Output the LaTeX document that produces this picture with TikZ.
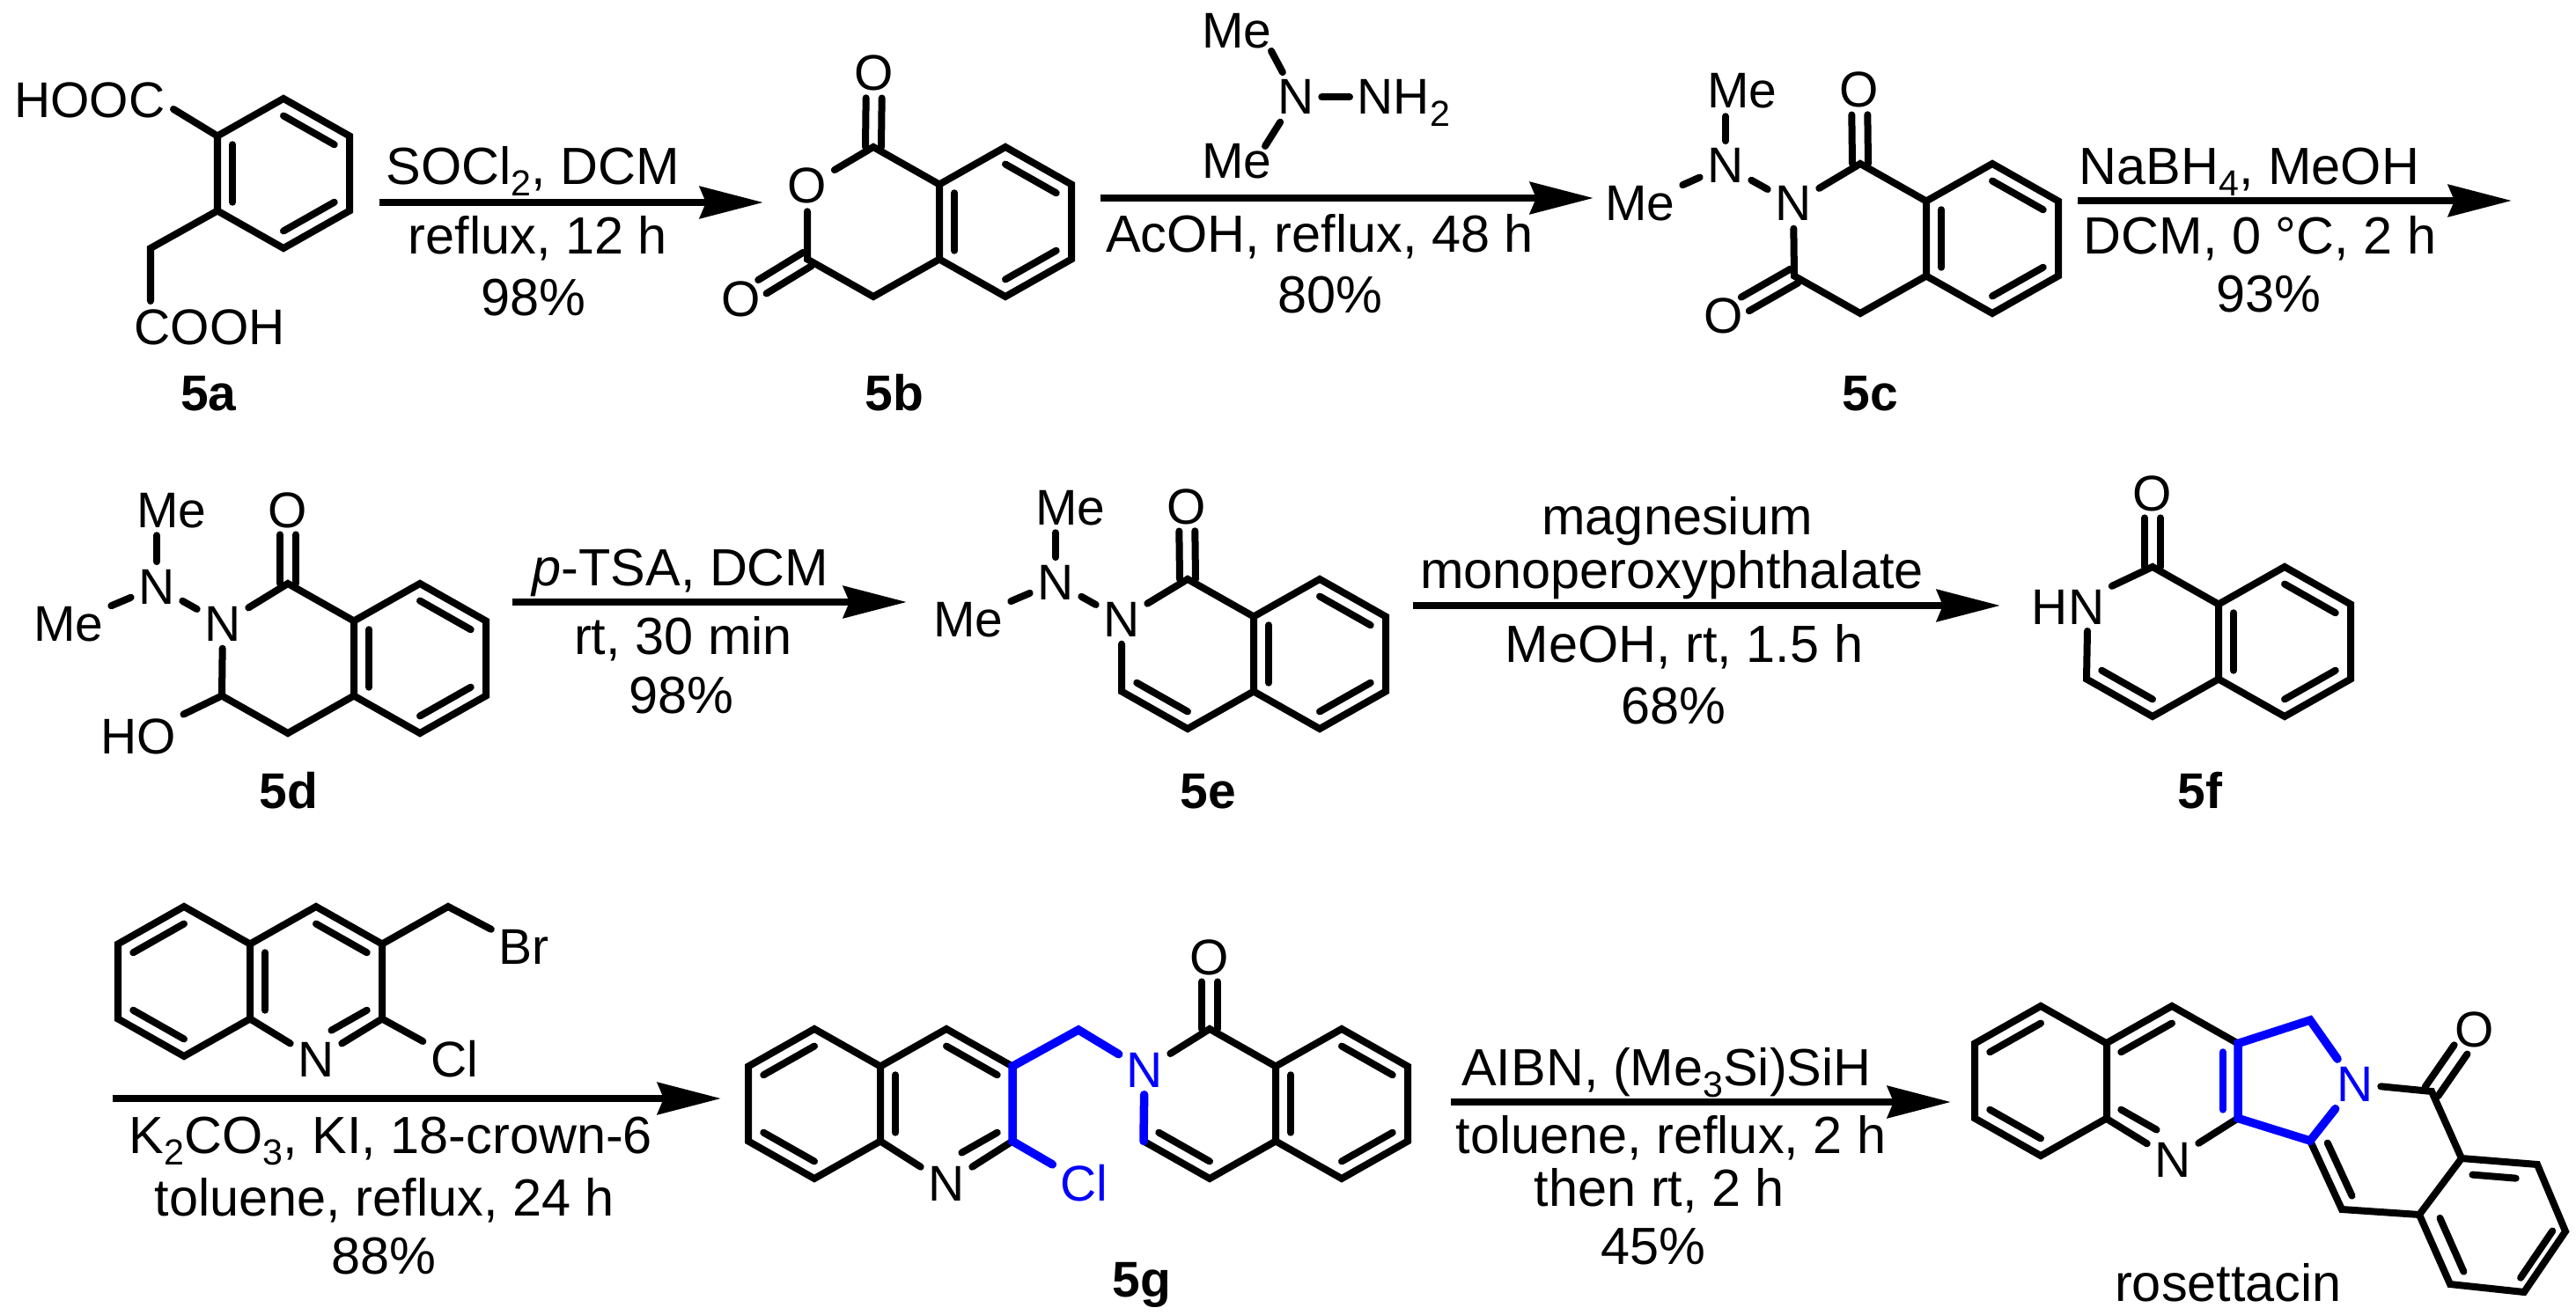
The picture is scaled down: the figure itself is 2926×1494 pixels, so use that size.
\documentclass[tikz,border=0pt]{standalone}
\usepackage{fontspec}
\setmainfont{Liberation Sans}
\usetikzlibrary{arrows.meta,calc}
\newcommand{\lowidx}[1]{\smash{\raisebox{-3.7pt}{\fontsize{11.7}{12}\selectfont #1}}}
\newcommand{\hexring}[3]{%
    \coordinate (#1c) at (#2,#3);
    \coordinate (#11) at (#2,#3-85);
    \coordinate (#12) at (#2+75,#3-42.5);
    \coordinate (#13) at (#2+75,#3+42.5);
    \coordinate (#14) at (#2,#3+85);
    \coordinate (#15) at (#2-75,#3+42.5);
    \coordinate (#16) at (#2-75,#3-42.5);
}
\newcommand{\dbond}[4][]{\draw[bond,#1] ($(#2)!0.23!(#4)$) -- ($(#3)!0.23!(#4)$);}
\newcommand{\hexagon}[1]{\draw[bond] (#11) -- (#12) -- (#13) -- (#14) -- (#15) -- (#16) -- cycle;}
\newcommand{\benzene}[1]{%
    \hexagon{#1}
    \dbond{#16}{#15}{#1c}
    \dbond{#11}{#12}{#1c}
    \dbond{#13}{#14}{#1c}
}
\newcommand{\carbonyl}[2]{%
    \draw[bond, shorten <=0.28cm] ($(#1)!0.09cm!90:(#2)$) -- ($(#2)!0.09cm!-90:(#1)$);
    \draw[bond, shorten <=0.28cm] ($(#1)!0.09cm!-90:(#2)$) -- ($(#2)!0.09cm!90:(#1)$);
}
\tikzset{
    bond/.style={line width=0.08cm, line cap=round},
    newbond/.style={bond, blue, line width=0.095cm},
    rxn/.style={line width=0.083cm, -{Stealth[length=0.72cm,width=0.36cm,inset=0.07cm]}},
    atom/.style={anchor=base, inner sep=0.08cm},
    newatom/.style={atom, text=blue},
    cond/.style={anchor=base, inner sep=0pt, font=\fontsize{16.9}{20}\selectfont},
    cpd/.style={anchor=base, inner sep=0pt, font=\fontsize{16.2}{19.4}\selectfont\bfseries},
}

\begin{document}
\begin{tikzpicture}[x=0.01cm, y=-0.01cm, font=\fontsize{16.2}{19.4}\selectfont]
    \path[use as bounding box, fill=white] (0,0) rectangle (2926,1494);

    \hexring{a}{322}{197}
    \benzene{a}
    \node[atom] (hooc) at (102,134) {HOOC};
    \node[atom] (cooh) at (238,392) {COOH};
    \coordinate (a7) at (171,282);
    \coordinate (a8) at (171,342);
    \coordinate (a9) at (197,124);
    \draw[bond] (a6) -- (a9);
    \draw[bond] (a5) -- (a7) -- (a8);
    \node[cpd] (la) at (237,466) {5a};

    \coordinate (s1) at (431,230);
    \coordinate (e1) at (867,230);
    \draw[rxn] (s1) -- (e1);
    \node[cond] (t1a) at (605,209) {SOCl\lowidx{2}, DCM};
    \node[cond] (t1b) at (611,289) {reflux, 12 h};
    \node[cond] (t1c) at (606,359) {98\%};

    \hexring{bl}{992}{252}
    \hexring{br}{1142}{252}
    \benzene{br}
    \node[atom] (bo1) at (993,103) {O};
    \node[atom] (bo2) at (917,231) {O};
    \node[atom] (bo3) at (842,360) {O};
    \draw[bond] (bo2) -- (bl1) -- (bl2);
    \draw[bond] (bo2) -- (bl5) -- (bl4) -- (bl3);
    \carbonyl{bo1}{bl1}
    \carbonyl{bo3}{bl5}
    \node[cpd] (lb) at (1016,466) {5b};

    \node[atom] (hme1) at (1405,55) {Me};
    \node[atom] (hme2) at (1405,203) {Me};
    \node[atom] (hn) at (1472,130) {N};
    \node[atom, anchor=base west] (hnh) at (1533,130) {NH\lowidx{2}};
    \coordinate (h1) at (1444,58);
    \coordinate (h2) at (1437,166);
    \draw[bond] (hn) -- (h1);
    \draw[bond] (hn) -- (h2);
    \draw[bond] (hn) -- (hnh);

    \coordinate (s2) at (1250,225);
    \coordinate (e2) at (1810,225);
    \draw[rxn] (s2) -- (e2);
    \node[cond] (t2a) at (1499,287) {AcOH, reflux, 48 h};
    \node[cond] (t2b) at (1511,356) {80\%};

    \hexring{cl}{2113}{271}
    \hexring{cr}{2263}{271}
    \benzene{cr}
    \node[atom] (cme1) at (1979,123) {Me};
    \node[atom] (cme2) at (1863,251) {Me};
    \node[atom] (cn1) at (1960,208) {N};
    \node[atom] (cn2) at (2037,251) {N};
    \node[atom] (co1) at (2112,122) {O};
    \node[atom] (co2) at (1958,379) {O};
    \draw[bond] (cn2) -- (cl1) -- (cl2);
    \draw[bond] (cn2) -- (cl5) -- (cl4) -- (cl3);
    \draw[bond] (cn1) -- (cn1 |- cme1.south);
    \draw[bond] (cn1) -- (cme2);
    \draw[bond] (cn1) -- (cn2);
    \carbonyl{co1}{cl1}
    \carbonyl{co2}{cl5}
    \node[cpd] (lc) at (2124,466) {5c};

    \coordinate (s3) at (2360,228);
    \coordinate (e3) at (2853,228);
    \draw[rxn] (s3) -- (e3);
    \node[cond] (t3a) at (2555,209) {NaBH\lowidx{4}, MeOH};
    \node[cond] (t3b) at (2567,289) {DCM, 0 °C, 2 h};
    \node[cond] (t3c) at (2577,354) {93\%};

    \hexring{dl}{327}{748}
    \hexring{dr}{477}{748}
    \benzene{dr}
    \node[atom] (dme1) at (195,599) {Me};
    \node[atom] (dme2) at (78,728) {Me};
    \node[atom] (dn1) at (178,686) {N};
    \node[atom] (dn2) at (253,728) {N};
    \node[atom] (do) at (327,599) {O};
    \node[atom] (dho) at (157,856) {HO};
    \draw[bond] (dn2) -- (dl1) -- (dl2);
    \draw[bond] (dn2) -- (dl5) -- (dl4) -- (dl3);
    \draw[bond] (dl5) -- (dho);
    \draw[bond] (dn1) -- (dn1 |- dme1.south);
    \draw[bond] (dn1) -- (dme2);
    \draw[bond] (dn1) -- (dn2);
    \carbonyl{do}{dl1}
    \node[cpd] (ld) at (328,918) {5d};

    \coordinate (s4) at (582,684);
    \coordinate (e4) at (1030,684);
    \draw[rxn] (s4) -- (e4);
    \node[cond] (t4a) at (773,665) {\textit{p}-TSA, DCM};
    \node[cond] (t4b) at (776,743) {rt, 30 min};
    \node[cond] (t4c) at (774,810) {98\%};

    \hexring{el}{1349}{743}
    \hexring{er}{1499}{743}
    \benzene{er}
    \node[atom] (eme1) at (1216,596) {Me};
    \node[atom] (eme2) at (1100,723) {Me};
    \node[atom] (en1) at (1199,681) {N};
    \node[atom] (en2) at (1274,723) {N};
    \node[atom] (eo) at (1348,595) {O};
    \draw[bond] (en2) -- (el1) -- (el2);
    \draw[bond] (en2) -- (el5) -- (el4) -- (el3);
    \dbond{el5}{el4}{elc}
    \draw[bond] (en1) -- (en1 |- eme1.south);
    \draw[bond] (en1) -- (eme2);
    \draw[bond] (en1) -- (en2);
    \carbonyl{eo}{el1}
    \node[cpd] (le) at (1372,918) {5e};

    \coordinate (s5) at (1605,688);
    \coordinate (e5) at (2272,688);
    \draw[rxn] (s5) -- (e5);
    \node[cond] (t5a) at (1905,607) {magnesium};
    \node[cond] (t5b) at (1899,668) {monoperoxyphthalate};
    \node[cond] (t5c) at (1913,752) {MeOH, rt, 1.5 h};
    \node[cond] (t5d) at (1901,822) {68\%};

    \hexring{fl}{2445}{729}
    \hexring{fr}{2595}{729}
    \benzene{fr}
    \node[atom] (fhn) at (2349,709) {HN};
    \node[atom] (fo) at (2445,580) {O};
    \coordinate (f7) at (2371,717);
    \draw[bond] (fhn) -- (fl1) -- (fl2);
    \draw[bond] (f7) -- (fl5) -- (fl4) -- (fl3);
    \dbond{fl5}{fl4}{flc}
    \carbonyl{fo}{fl1}
    \node[cpd] (lf) at (2499,918) {5f};

    \hexring{qa}{209}{1115}
    \hexring{qb}{359}{1115}
    \hexagon{qa}
    \dbond{qa6}{qa1}{qac}
    \dbond{qa5}{qa4}{qac}
    \node[atom] (qn) at (359,1223) {N};
    \node[atom] (qcl) at (516,1223) {Cl};
    \node[atom] (qbr) at (595,1095) {Br};
    \coordinate (q7) at (509,1030);
    \draw[bond] (qb6) -- (qb1) -- (qb2) -- (qb3) -- (qcl);
    \draw[bond] (qb2) -- (q7) -- (qbr);
    \draw[bond] (qb5) -- (qn) -- (qb3);
    \dbond{qb1}{qb2}{qbc}
    \dbond{qb6}{qb5}{qbc}
    \dbond[shorten >=0.2cm]{qb3}{qb4}{qbc}

    \coordinate (s6) at (128,1248);
    \coordinate (e6) at (819,1248);
    \draw[rxn] (s6) -- (e6);
    \node[cond] (t6a) at (444,1310) {K\lowidx{2}CO\lowidx{3}, KI, 18-crown-6};
    \node[cond] (t6b) at (437,1381) {toluene, reflux, 24 h};
    \node[cond] (t6c) at (436,1447) {88\%};

    \hexring{ga}{925}{1254}
    \hexring{gb}{1075}{1254}
    \hexring{gc}{1374}{1254}
    \hexring{gd}{1524}{1254}
    \hexagon{ga}
    \dbond{ga6}{ga1}{gac}
    \dbond{ga5}{ga4}{gac}
    \benzene{gd}
    \node[atom] (gn1) at (1075,1364) {N};
    \node[newatom] (gcl) at (1231,1364) {Cl};
    \node[newatom] (gn2) at (1300,1235) {N};
    \node[atom] (go) at (1374,1107) {O};
    \coordinate (g7) at (1225,1170);
    \draw[bond] (gb6) -- (gb1) -- (gb2);
    \draw[bond] (gb5) -- (gn1) -- (gb3);
    \dbond{gb1}{gb2}{gbc}
    \dbond{gb6}{gb5}{gbc}
    \dbond[shorten >=0.2cm]{gb3}{gb4}{gbc}
    \draw[bond] (gn2) -- (gc1) -- (gc2);
    \draw[bond] (gc5) -- (gc4) -- (gc3);
    \dbond{gc5}{gc4}{gcc}
    \carbonyl{go}{gc1}
    \draw[newbond] (gn2) -- (g7) -- (gb2) -- (gb3) -- (gcl);
    \draw[newbond] (gn2) -- (gc5);
    \node[cpd] (lg) at (1297,1473) {5g};

    \coordinate (s7) at (1648,1252);
    \coordinate (e7) at (2216,1252);
    \draw[rxn] (s7) -- (e7);
    \node[cond] (t7a) at (1893,1233) {AIBN, (Me\lowidx{3}Si)SiH};
    \node[cond] (t7b) at (1898,1310) {toluene, reflux, 2 h};
    \node[cond] (t7c) at (1885,1370) {then rt, 2 h};
    \node[cond] (t7d) at (1878,1436) {45\%};

    \hexring{ra}{2318}{1228}
    \hexring{rb}{2467}{1228}
    \hexagon{ra}
    \dbond{ra6}{ra1}{rac}
    \dbond{ra5}{ra4}{rac}
    \node[atom] (rn1) at (2468,1337) {N};
    \node[newatom] (rn2) at (2675,1251) {N};
    \node[atom] (ro) at (2811,1189) {O};
    \coordinate (r1) at (2624,1159);
    \coordinate (r2) at (2624,1296);
    \coordinate (r3) at (2762,1240);
    \coordinate (r4) at (2796,1316);
    \coordinate (r5) at (2748,1380);
    \coordinate (r6) at (2660,1374);
    \coordinate (r7) at (2882,1323);
    \coordinate (r8) at (2914,1399);
    \coordinate (r9) at (2867,1468);
    \coordinate (r10) at (2783,1459);
    \coordinate (rcc) at (2710,1307);
    \coordinate (rdc) at (2850,1397);
    \draw[bond] (rb6) -- (rb1) -- (rb2);
    \draw[bond] (rb5) -- (rn1) -- (rb3);
    \dbond{rb6}{rb1}{rbc}
    \dbond[shorten >=0.2cm]{rb5}{rb4}{rbc}
    \draw[bond] (rn2) -- (r3) -- (r4) -- (r5) -- (r6) -- (r2);
    \draw[bond] (r4) -- (r7) -- (r8) -- (r9) -- (r10) -- (r5);
    \dbond{r2}{r6}{rcc}
    \dbond[shorten >=0.17cm]{r4}{r7}{rdc}
    \dbond{r5}{r10}{rdc}
    \dbond{r8}{r9}{rdc}
    \carbonyl{ro}{r3}
    \draw[newbond] (rn2) -- (r1) -- (rb2) -- (rb3) -- (r2) -- (rn2);
    \dbond[blue]{rb2}{rb3}{rbc}
    \node[cond] (lr) at (2531,1478) {rosettacin};
\end{tikzpicture}
\end{document}
